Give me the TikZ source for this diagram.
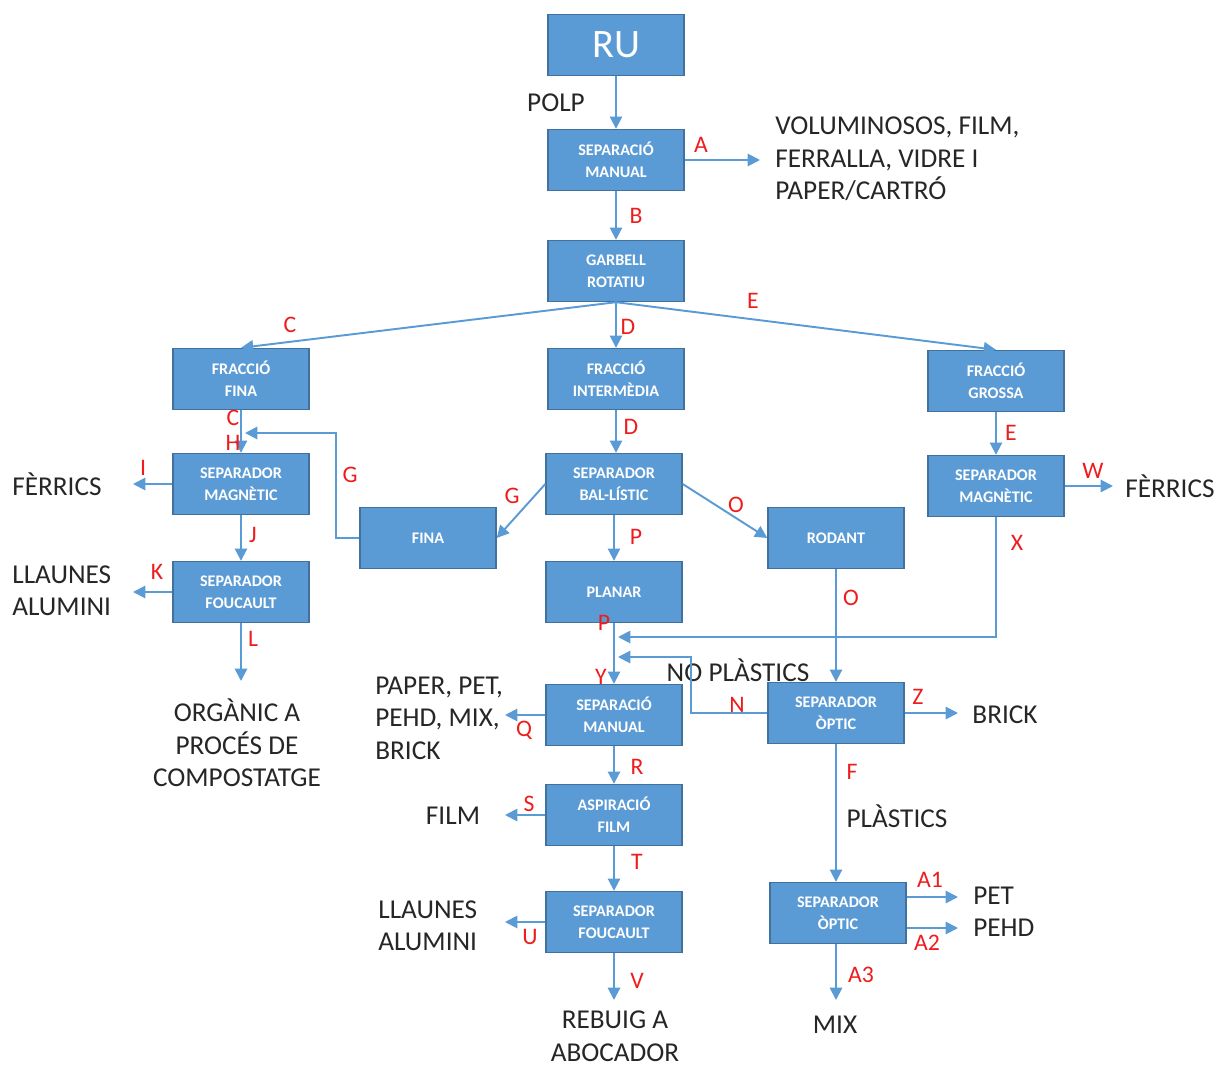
\documentclass[tikz,border=0pt]{standalone}
\usepackage{fontspec}
\setmainfont{Carlito}
\usetikzlibrary{positioning,arrows.meta}

\definecolor{boxblue}{HTML}{5B9BD5}
\definecolor{boxline}{HTML}{41719C}
\definecolor{lblred}{HTML}{EE1C1C}
\definecolor{txtgray}{HTML}{262626}

\begin{document}
\begin{tikzpicture}[x=0.02cm,y=-0.02cm,
  procnode/.style={draw=boxline,fill=boxblue,line width=0.8pt,minimum width=2.72cm,minimum height=1.22cm,text width=2.4cm,align=center,text=white,font=\fontsize{9.2}{12.5}\selectfont\bfseries},
  txtnode/.style={text=txtgray,font=\fontsize{15.5}{18.5}\selectfont,inner sep=0pt},
  lbl/.style={text=lblred,font=\fontsize{13.5}{15}\selectfont,inner sep=0pt},
  flow/.style={draw=boxblue,line width=1.1pt,-{Triangle[length=7pt,width=7pt]}}
]
\useasboundingbox (0,0) rectangle (1227,1068);

% process boxes
\node[procnode,font=\fontsize{23}{26}\selectfont] (ru) at (616,45) {RU};
\node[procnode] (sman) at (616,160) {SEPARACIÓ\\MANUAL};
\node[procnode] (garb) at (616,271) {GARBELL\\ROTATIU};
\node[procnode] (ffina) at (241,379) {FRACCIÓ\\FINA};
\node[procnode] (finter) at (616,379) {FRACCIÓ\\INTERMÈDIA};
\node[procnode] (fgros) at (996,381) {FRACCIÓ\\GROSSA};
\node[procnode] (magl) at (241,484) {SEPARADOR\\MAGNÈTIC};
\node[procnode] (balis) at (614,484) {SEPARADOR\\BAL-LÍSTIC};
\node[procnode] (magr) at (996,486) {SEPARADOR\\MAGNÈTIC};
\node[procnode] (fina) at (428,538) {FINA};
\node[procnode] (rod) at (836,538) {RODANT};
\node[procnode] (fouc) at (241,592) {SEPARADOR\\FOUCAULT};
\node[procnode] (plan) at (614,592) {PLANAR};
\node[procnode] (sman2) at (614,715) {SEPARACIÓ\\MANUAL};
\node[procnode] (opt) at (836,713) {SEPARADOR\\ÒPTIC};
\node[procnode] (asp) at (614,815) {ASPIRACIÓ\\FILM};
\node[procnode] (fouc2) at (614,922) {SEPARADOR\\FOUCAULT};
\node[procnode] (opt2) at (838,913) {SEPARADOR\\ÒPTIC};

% outputs
\node[txtnode] (polp) at (556,103) {POLP};
\node[txtnode,anchor=west,align=left] (volum) at (775,159) {VOLUMINOSOS, FILM,\\FERRALLA, VIDRE I\\PAPER/CARTRÓ};
\node[txtnode] (ferl) at (57,484) {FÈRRICS};
\node[txtnode] (ferr) at (1170,486) {FÈRRICS};
\node[txtnode,anchor=west,align=left] (llaul) at (12,591) {LLAUNES\\ALUMINI};
\node[txtnode,align=center] (organ) at (237,743) {ORGÀNIC A\\PROCÉS DE\\COMPOSTATGE};
\node[txtnode,anchor=west,align=left] (paper) at (375,718) {PAPER, PET,\\PEHD, MIX,\\BRICK};
\node[txtnode] (noplas) at (738,670) {NO PLÀSTICS};
\node[txtnode] (brick) at (1005,715) {BRICK};
\node[txtnode] (film) at (453,816) {FILM};
\node[txtnode] (plas) at (897,816) {PLÀSTICS};
\node[txtnode,anchor=west,align=left] (llaum) at (378,926) {LLAUNES\\ALUMINI};
\node[txtnode,anchor=west] (pet) at (973,896) {PET};
\node[txtnode,anchor=west] (pehd) at (973,928) {PEHD};
\node[txtnode,align=center] (rebuig) at (615,1036) {REBUIG A\\ABOCADOR};
\node[txtnode] (mix) at (835,1025) {MIX};

% free arrow ends
\coordinate (aout) at (760,160);
\coordinate (iout) at (133,484);
\coordinate (kout) at (133,592);
\coordinate (lout) at (241,681);
\coordinate (hin) at (245,433);
\coordinate (wout) at (1113,486);
\coordinate (xin) at (618,637);
\coordinate (nin) at (618,657);
\coordinate (zout) at (958,713);
\coordinate (qout) at (505,715);
\coordinate (sout) at (505,815);
\coordinate (uout) at (505,922);
\coordinate (vout) at (614,1000);
\coordinate (a1out) at (958,897);
\coordinate (a2out) at (958,928);
\coordinate (a3out) at (836,1000);

% connectors
\draw[flow] (ru) -- (sman);
\draw[flow] (sman) -- (aout);
\draw[flow] (sman) -- (garb);
\draw[flow] (garb.south) -- (ffina.north);
\draw[flow] (garb) -- (finter);
\draw[flow] (garb.south) -- (fgros.north);
\draw[flow] (ffina) -- (magl);
\draw[flow] (magl) -- (iout);
\draw[flow] (magl) -- (fouc);
\draw[flow] (fouc) -- (kout);
\draw[flow] (fouc) -- (lout);
\draw[flow] (finter.south) -- (finter.south |- balis.north);
\draw[flow] (balis.west) -- (fina.east);
\draw[flow] (fina.west) -- ++(-23,0) |- (hin);
\draw[flow] (balis) -- (plan);
\draw[flow] (balis.east) -- (rod.west);
\draw[flow] (fgros) -- (magr);
\draw[flow] (magr) -- (wout);
\draw[flow] (magr.south) |- (xin);
\draw[flow] (rod) -- (opt);
\draw[flow] (plan) -- (sman2);
\draw[flow] (opt.west) -- ++(-76,0) |- (nin);
\draw[flow] (opt) -- (zout);
\draw[flow] (sman2) -- (qout);
\draw[flow] (sman2) -- (asp);
\draw[flow] (asp) -- (sout);
\draw[flow] (asp) -- (fouc2);
\draw[flow] (fouc2) -- (uout);
\draw[flow] (fouc2) -- (vout);
\draw[flow] (opt.south) -- (opt.south |- opt2.north);
\draw[flow] (opt2.east |- a1out) -- (a1out);
\draw[flow] (opt2.east |- a2out) -- (a2out);
\draw[flow] (opt2.south -| a3out) -- (a3out);

% flow labels
\node[lbl] (la) at (701,145) {A};
\node[lbl] (lb) at (636,216) {B};
\node[lbl] (lc) at (290,325) {C};
\node[lbl] (ld) at (628,327) {D};
\node[lbl] (le) at (753,301) {E};
\node[lbl] (lc2) at (233,418) {C};
\node[lbl] (lh) at (233,443) {H};
\node[lbl] (ld2) at (631,427) {D};
\node[lbl] (le2) at (1011,433) {E};
\node[lbl] (li) at (143,468) {I};
\node[lbl] (lg) at (350,475) {G};
\node[lbl] (lg2) at (512,496) {G};
\node[lbl] (lw) at (1093,471) {W};
\node[lbl] (lo) at (736,505) {O};
\node[lbl] (lp) at (636,537) {P};
\node[lbl] (lx) at (1017,543) {X};
\node[lbl] (lj) at (253,535) {J};
\node[lbl] (lk) at (157,572) {K};
\node[lbl] (ll) at (253,639) {L};
\node[lbl] (lo2) at (851,598) {O};
\node[lbl] (lp2) at (604,623) {P};
\node[lbl] (ly) at (601,677) {Y};
\node[lbl] (ln) at (737,705) {N};
\node[lbl] (lz) at (918,697) {Z};
\node[lbl] (lq) at (524,730) {Q};
\node[lbl] (lr) at (637,767) {R};
\node[lbl] (lf) at (852,772) {F};
\node[lbl] (ls) at (529,804) {S};
\node[lbl] (lt) at (637,862) {T};
\node[lbl] (lu) at (530,937) {U};
\node[lbl] (lv) at (637,981) {V};
\node[lbl] (la1) at (930,880) {A1};
\node[lbl] (la2) at (927,943) {A2};
\node[lbl] (la3) at (861,975) {A3};
\end{tikzpicture}
\end{document}
